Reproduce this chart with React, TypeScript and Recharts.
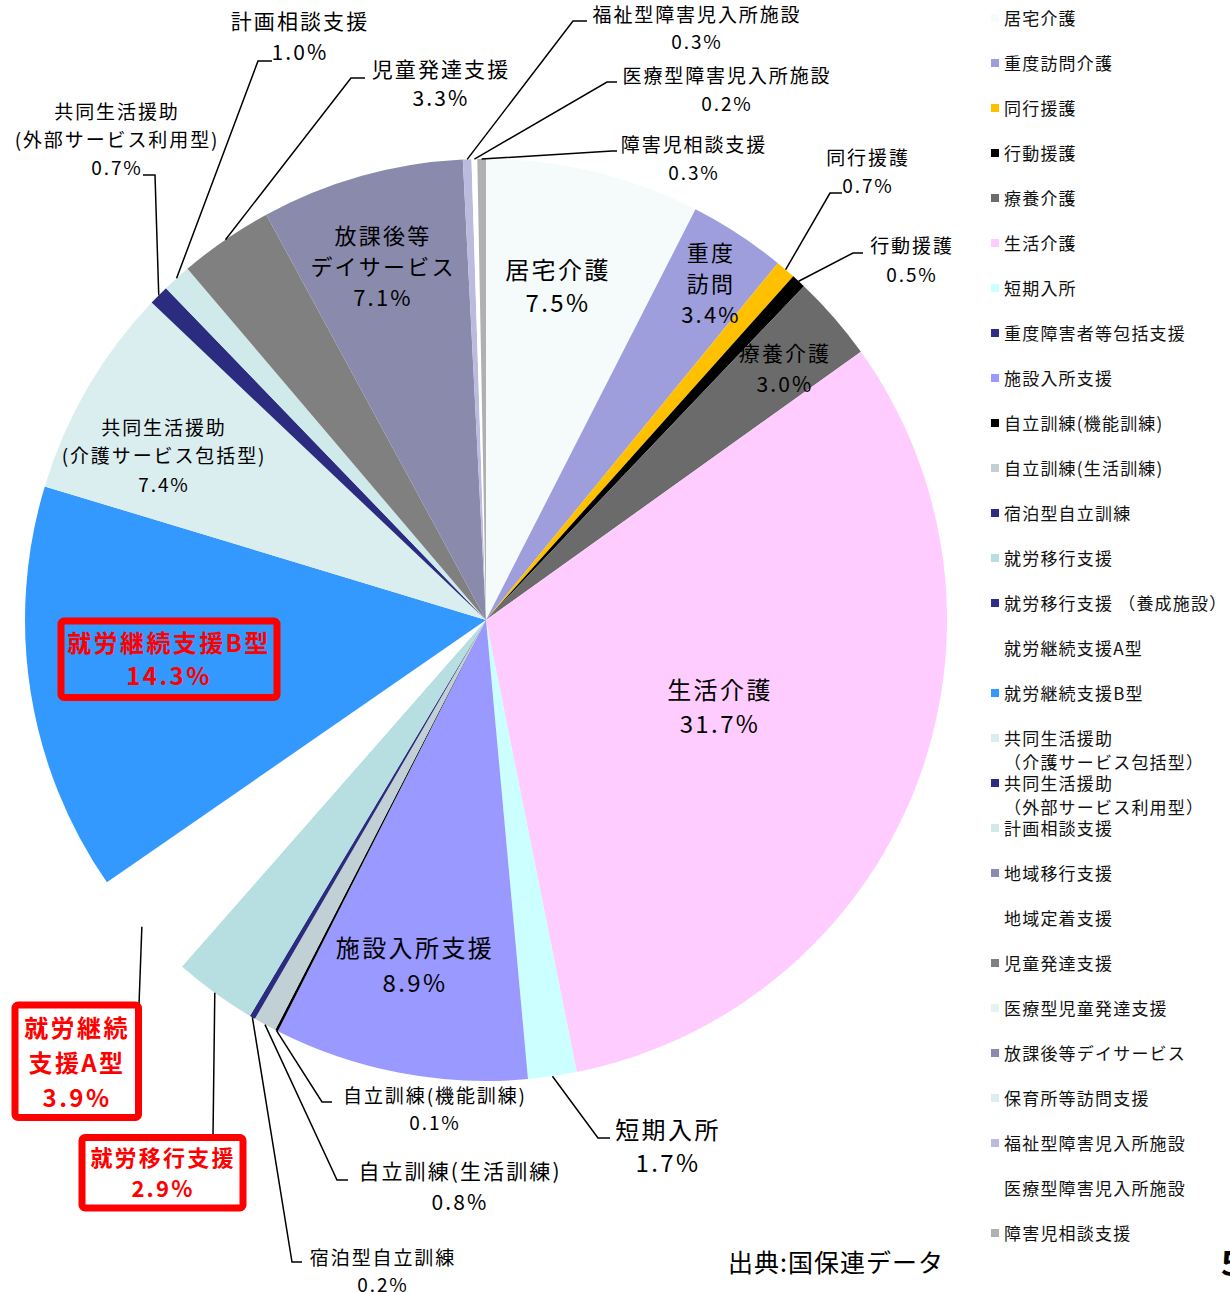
import React from "react";
import { PieChart, Pie, Cell, Legend } from "recharts";

// ---------------------------------------------------------------------------
// Data (share of total, %)
// ---------------------------------------------------------------------------

const categories = [
  "居宅介護",
  "重度訪問介護",
  "同行援護",
  "行動援護",
  "療養介護",
  "生活介護",
  "短期入所",
  "重度障害者等包括支援",
  "施設入所支援",
  "自立訓練(機能訓練)",
  "自立訓練(生活訓練)",
  "宿泊型自立訓練",
  "就労移行支援",
  "就労移行支援 （養成施設）",
  "就労継続支援A型",
  "就労継続支援B型",
  "共同生活援助\n（介護サービス包括型）",
  "共同生活援助\n（外部サービス利用型）",
  "計画相談支援",
  "地域移行支援",
  "地域定着支援",
  "児童発達支援",
  "医療型児童発達支援",
  "放課後等デイサービス",
  "保育所等訪問支援",
  "福祉型障害児入所施設",
  "医療型障害児入所施設",
  "障害児相談支援",
];

const shares = [
  7.5, 3.4, 0.7, 0.5, 3.0, 31.7, 1.7, 0, 8.9, 0.1, 0.8, 0.2, 2.9, 0, 3.9, 14.3,
  7.4, 0.7, 1.0, 0, 0, 3.3, 0, 7.1, 0, 0.3, 0.2, 0.3,
];

const colors = [
  "#F5FAFA", "#9E9EDC", "#FFC000", "#000000", "#6B6B6B", "#FFCCFF", "#CCFFFF",
  "#2E2E8A", "#9999FF", "#000000", "#C0D0D4", "#2B2B80", "#B7DEE0", "#2E2E8A",
  "#FFFFFF", "#3399FF", "#DAEDEF", "#2B2B80", "#D0E9EB", "#8B8BB0", "#FFFFFF",
  "#808080", "#E6F2F2", "#8A8AAD", "#DDEEEE", "#BBBBDD", "#FFFFFF", "#B0B0B0",
];

const pieData = categories.map((name, i) => ({ name, value: shares[i] }));

// ---------------------------------------------------------------------------
// Label placement (annotation layout, by category index)
// ---------------------------------------------------------------------------

type LabelSpec = {
  lines: string[];
  x: number;
  y: number;
  gap: number;
  size: number;
  path?: [number, number][];
  box?: [number, number, number, number];
  red?: boolean;
};

const labelSpecs: Record<number, LabelSpec> = {
  0: { lines: ["居宅介護"], x: 558, y: 270, gap: 33, size: 24 },
  1: { lines: ["重度", "訪問"], x: 711, y: 253, gap: 31, size: 22 },
  2: { lines: ["同行援護"], x: 868, y: 158, gap: 28, size: 19, path: [[830, 193], [842, 193]] },
  3: { lines: ["行動援護"], x: 912, y: 246, gap: 29, size: 19, path: [[853, 253], [863, 253]] },
  4: { lines: ["療養介護"], x: 785, y: 354, gap: 31, size: 21 },
  5: { lines: ["生活介護"], x: 720, y: 690, gap: 34, size: 24 },
  6: { lines: ["短期入所"], x: 668, y: 1130, gap: 33, size: 24, path: [[598, 1138], [610, 1138]] },
  8: { lines: ["施設入所支援"], x: 415, y: 948, gap: 35, size: 24 },
  9: { lines: ["自立訓練(機能訓練)"], x: 435, y: 1096, gap: 27, size: 19, path: [[322, 1102], [332, 1102]] },
  10: { lines: ["自立訓練(生活訓練)"], x: 460, y: 1172, gap: 31, size: 21, path: [[337, 1180], [348, 1180]] },
  11: { lines: ["宿泊型自立訓練"], x: 383, y: 1258, gap: 27, size: 19, path: [[292, 1262], [302, 1262]] },
  12: { lines: ["就労移行支援"], x: 163, y: 1158, gap: 31, size: 22, red: true, box: [82, 1137.5, 161, 70.5], path: [[213, 1137]] },
  14: { lines: ["就労継続", "支援A型"], x: 77, y: 1028, gap: 35, size: 24, red: true, box: [15, 1005, 123.5, 112.5], path: [[139, 1005]] },
  15: { lines: ["就労継続支援B型"], x: 169, y: 643, gap: 33, size: 24, red: true, box: [61, 621, 216, 76.5] },
  16: { lines: ["共同生活援助", "(介護サービス包括型)"], x: 164, y: 428, gap: 28.5, size: 19 },
  17: { lines: ["共同生活援助", "(外部サービス利用型)"], x: 117, y: 112, gap: 28, size: 19, path: [[155, 175], [143, 175]] },
  18: { lines: ["計画相談支援"], x: 300, y: 22, gap: 31, size: 21, path: [[258, 61], [272, 61]] },
  21: { lines: ["児童発達支援"], x: 441, y: 70, gap: 29, size: 21, path: [[351, 78], [365, 78]] },
  23: { lines: ["放課後等", "デイサービス"], x: 383, y: 236, gap: 31, size: 22 },
  25: { lines: ["福祉型障害児入所施設"], x: 697, y: 15, gap: 27, size: 19, path: [[573, 21], [587, 21]] },
  26: { lines: ["医療型障害児入所施設"], x: 727, y: 76, gap: 28, size: 19, path: [[607, 82], [617, 82]] },
  27: { lines: ["障害児相談支援"], x: 694, y: 145, gap: 28, size: 19, path: [[612, 151], [617, 151]] },
};

const FONT = '"Noto Sans CJK JP", "Noto Sans", sans-serif';
const RAD = Math.PI / 180;
// CJK glyphs sit a little low with dominantBaseline=central
const TEXT_NUDGE = -2;

function renderLabel(props: any) {
  const { cx, cy, midAngle, outerRadius, index } = props;
  const spec = labelSpecs[index];
  if (!spec) return null;
  const sx = cx + outerRadius * Math.cos(-midAngle * RAD);
  const sy = cy + outerRadius * Math.sin(-midAngle * RAD);
  const lines = [...spec.lines, `${shares[index].toFixed(1)}%`];
  const color = spec.red ? "#FF0000" : "#000000";
  return (
    <g key={`label-${index}`}>
      {spec.path && (
        <polyline
          points={[[sx, sy], ...spec.path].map((p) => p.join(",")).join(" ")}
          fill="none"
          stroke="#000"
          strokeWidth={1.5}
        />
      )}
      {spec.box && (
        <rect
          x={spec.box[0]}
          y={spec.box[1]}
          width={spec.box[2]}
          height={spec.box[3]}
          rx={3}
          fill={index === 15 ? "none" : "#fff"}
          stroke="#FF0000"
          strokeWidth={7}
        />
      )}
      {lines.map((t, i) => (
        <text
          key={i}
          x={spec.x}
          y={spec.y + i * spec.gap + TEXT_NUDGE}
          textAnchor="middle"
          dominantBaseline="central"
          fontFamily={FONT}
          fontSize={spec.size}
          fontWeight={spec.red ? 700 : 400}
          letterSpacing={spec.size * 0.1}
          fill={color}
        >
          {t}
        </text>
      ))}
    </g>
  );
}

// ---------------------------------------------------------------------------
// Legend
// ---------------------------------------------------------------------------

function LegendList() {
  return (
    <div style={{ position: "relative", width: 245, height: 1292, fontFamily: FONT }}>
      {categories.map((name, i) => {
        const parts = name.split("\n");
        return (
          <div key={name} style={{ position: "absolute", left: 0, top: 6 + i * 45 }}>
            <div
              style={{
                position: "absolute",
                left: 6,
                top: 8,
                width: 8,
                height: 8,
                background: colors[i],
              }}
            />
            {parts.map((p, j) => (
              <div
                key={j}
                style={{
                  position: "absolute",
                  left: 19,
                  top: j * 24,
                  whiteSpace: "nowrap",
                  fontSize: 17,
                  lineHeight: "24px",
                  letterSpacing: 1.2,
                  color: "#111",
                }}
              >
                {p}
              </div>
            ))}
          </div>
        );
      })}
    </div>
  );
}

// ---------------------------------------------------------------------------
// App
// ---------------------------------------------------------------------------

export default function App() {
  return (
    <div
      style={{
        position: "absolute",
        left: 0,
        top: 0,
        width: 1230,
        height: 1292,
        background: "#fff",
        overflow: "hidden",
      }}
    >
      <PieChart width={1230} height={1292} margin={{ top: 0, right: 0, bottom: 0, left: 0 }}>
        <Pie
          data={pieData}
          dataKey="value"
          nameKey="name"
          cx={486}
          cy={620}
          outerRadius={461}
          startAngle={90}
          endAngle={-270}
          stroke="none"
          label={renderLabel}
          labelLine={false}
          isAnimationActive={false}
        >
          {pieData.map((d, i) => (
            <Cell key={d.name} fill={colors[i]} stroke="none" />
          ))}
        </Pie>
        <Legend
          layout="vertical"
          align="right"
          verticalAlign="top"
          content={() => <LegendList />}
          wrapperStyle={{ left: 985, top: 0, width: 245, height: 1292 }}
        />
      </PieChart>
      <div
        style={{
          position: "absolute",
          left: 728,
          top: 1245,
          fontFamily: FONT,
          fontSize: 25,
          lineHeight: "32px",
          letterSpacing: 1,
          color: "#000",
          whiteSpace: "nowrap",
        }}
      >
        出典:国保連データ
      </div>
      <div
        style={{
          position: "absolute",
          left: 1221,
          top: 1240,
          fontFamily: FONT,
          fontSize: 34,
          fontWeight: 700,
          lineHeight: "44px",
          color: "#000",
        }}
      >
        5
      </div>
    </div>
  );
}
